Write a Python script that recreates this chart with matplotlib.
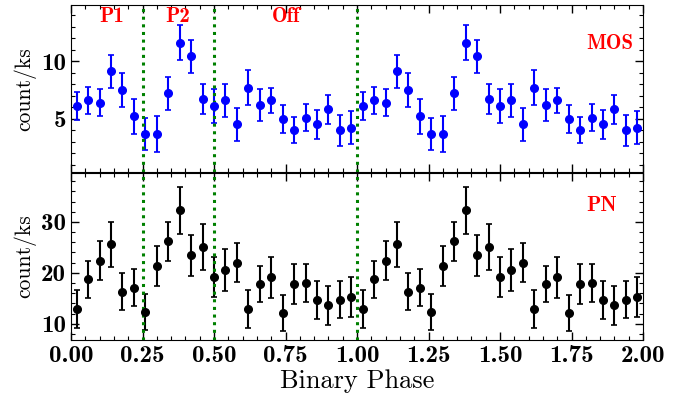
import numpy as np
import matplotlib
matplotlib.use("Agg")
import matplotlib.pyplot as plt
from matplotlib.ticker import MultipleLocator, FormatStrFormatter

# One binary cycle (25 phase bins), plotted twice
phase = [0.02, 0.06, 0.10, 0.14, 0.18, 0.22, 0.26, 0.30, 0.34, 0.38, 0.42, 0.46, 0.50,
         0.54, 0.58, 0.62, 0.66, 0.70, 0.74, 0.78, 0.82, 0.86, 0.90, 0.94, 0.98]
mos_rate = [6.1, 6.6, 6.4, 9.1, 7.5, 5.2, 3.7, 3.7, 7.2, 11.6, 10.4, 6.7, 6.1,
            6.6, 4.5, 7.7, 6.2, 6.6, 5.0, 4.0, 5.1, 4.5, 5.8, 4.0, 4.2]
mos_err = [1.2, 1.15, 1.2, 1.4, 1.45, 1.55, 1.4, 1.55, 1.45, 1.5, 1.45, 1.3, 1.45,
           1.43, 1.43, 1.5, 1.37, 1.1, 1.2, 1.15, 1.2, 1.23, 1.27, 1.33, 1.43]
pn_rate = [12.9, 18.7, 22.4, 25.6, 16.3, 17.1, 12.3, 21.3, 26.2, 32.3, 23.4, 25.1, 19.2,
           20.6, 22.0, 12.9, 17.8, 19.1, 12.1, 17.8, 18.0, 14.7, 13.6, 14.7, 15.3]
pn_err = [3.8, 3.7, 3.9, 4.4, 3.7, 3.6, 3.6, 3.9, 3.8, 4.6, 4.1, 4.5, 4.0,
          4.1, 3.9, 3.7, 3.6, 4.1, 3.5, 3.9, 3.7, 3.7, 3.9, 3.6, 3.9]
phase_lines = [0.25, 0.5, 1.0]
region_labels = ["P1", "P2", "Off"]
region_pos = [0.142, 0.372, 0.752]

x = np.concatenate([phase, np.array(phase) + 1.0])
mos = np.concatenate([mos_rate, mos_rate])
mose = np.concatenate([mos_err, mos_err])
pn = np.concatenate([pn_rate, pn_rate])
pne = np.concatenate([pn_err, pn_err])

plt.rcParams['font.family'] = ['cmb10', 'DejaVu Serif']
plt.rcParams['axes.unicode_minus'] = False
REG = ['cmr10', 'DejaVu Serif']

fig, (ax1, ax2) = plt.subplots(2, 1, figsize=(6.94, 3.99), dpi=100, sharex=True)
fig.subplots_adjust(left=71/694, right=643/694, top=1-5/399, bottom=1-340/399, hspace=0)

ax1.errorbar(x, mos, yerr=mose, fmt='o', color='#0000ff', ms=5.5, capsize=2,
             elinewidth=1.5, capthick=1.2)
ax2.errorbar(x, pn, yerr=pne, fmt='o', color='black', ms=5.5, capsize=2,
             elinewidth=1.5, capthick=1.2)

for ax in (ax1, ax2):
    for p in phase_lines:
        ax.axvline(p, color='green', ls=(0, (1, 1.5)), lw=2.2)
    ax.tick_params(which='both', direction='in', top=True, right=True, labelsize=18)
    ax.tick_params(which='major', length=6, width=1)
    ax.tick_params(which='minor', length=3, width=0.8)
    ax.set_ylabel('count/ks', fontsize=15.5, family=REG)
    ax.yaxis.set_label_coords(-0.06, 0.5)

ax1.set_xlim(0, 2)
ax1.xaxis.set_major_locator(MultipleLocator(0.25))
ax1.xaxis.set_minor_locator(MultipleLocator(0.05))
ax1.set_ylim(0.33, 14.87)
ax1.yaxis.set_major_locator(MultipleLocator(5))
ax1.yaxis.set_minor_locator(MultipleLocator(1))
ax2.set_ylim(6.8, 39.7)
ax2.yaxis.set_major_locator(MultipleLocator(10))
ax2.yaxis.set_minor_locator(MultipleLocator(2))
ax2.xaxis.set_major_formatter(FormatStrFormatter('%.2f'))
ax2.set_xlabel('Binary Phase', fontsize=19, family=REG, labelpad=2)

for lab, pos in zip(region_labels, region_pos):
    ax1.text(pos, 13.9, lab, color='red', fontsize=15, ha='center', va='center')
ax1.text(1.885, 11.5, 'MOS', color='red', fontsize=15, ha='center', va='center')
ax2.text(1.857, 33.2, 'PN', color='red', fontsize=15, ha='center', va='center')

fig.savefig('out.png', dpi=100)
